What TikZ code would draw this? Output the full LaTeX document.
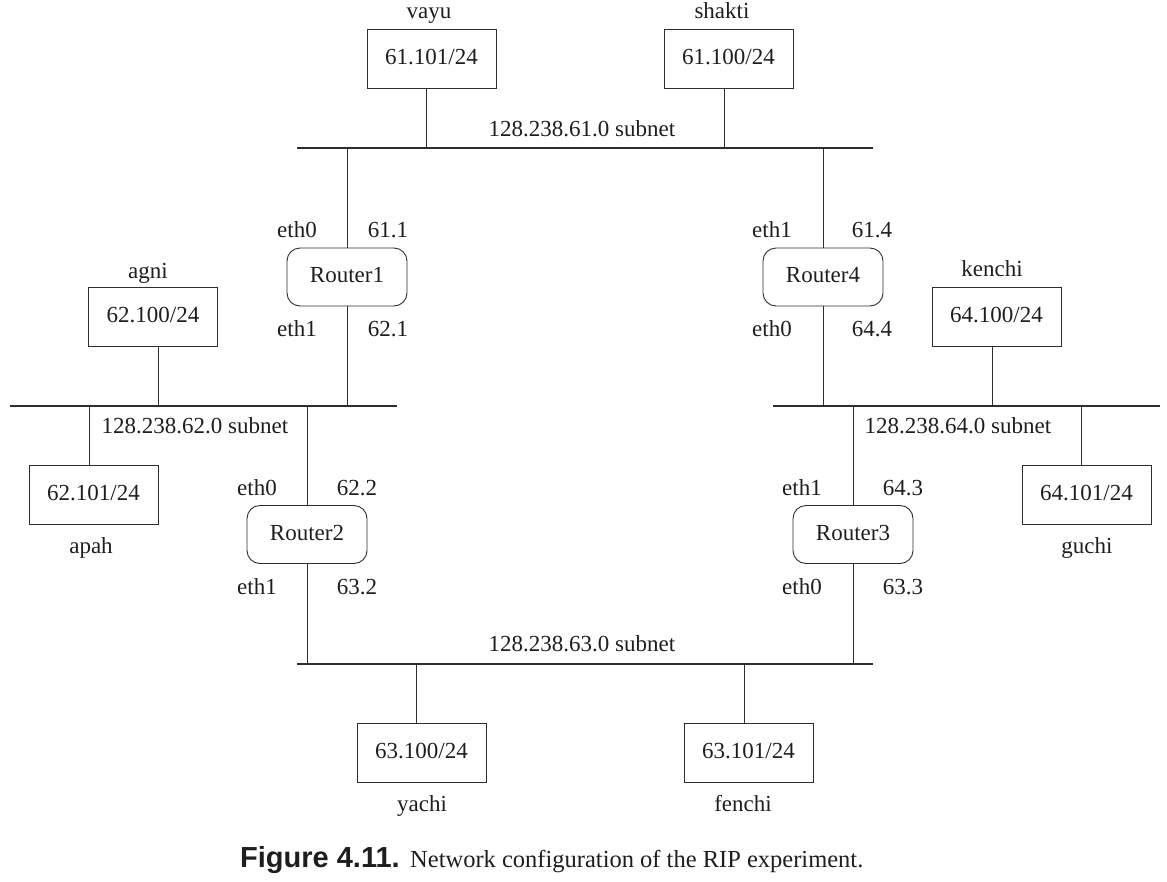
\documentclass[tikz,border=0pt]{standalone}
\usepackage{fontspec}
\setmainfont{Liberation Serif}
\newfontfamily\capsans{Liberation Sans}
\definecolor{lc}{RGB}{45,45,45}
\definecolor{tc}{RGB}{30,30,30}
\begin{document}
\begin{tikzpicture}[x=1pt,y=-1pt,
  every node/.style={text=tc},
  txt/.style={font=\fontsize{23}{26}\selectfont, inner sep=0pt, text height=16pt, text depth=5pt},
  host/.style={txt, draw=lc, line width=0.9pt, minimum width=129pt, minimum height=59pt},
  router/.style={txt, draw=lc, line width=0.9pt, rounded corners=13pt, minimum width=120pt, minimum height=58pt},
  bus/.style={draw=lc, line width=2.6pt},
  link/.style={draw=lc, line width=0.9pt}]
\useasboundingbox (0,0) rectangle (1167,881);

% hosts
\node[host] (vayu) at (431.5,58.5) {61.101/24};
\node[host] (shakti) at (728.5,58.5) {61.100/24};
\node[host] (agni) at (153,317) {62.100/24};
\node[host] (kenchi) at (996.5,317) {64.100/24};
\node[host] (apah) at (93.5,495) {62.101/24};
\node[host] (guchi) at (1086.5,495) {64.101/24};
\node[host] (yachi) at (421.5,753) {63.100/24};
\node[host] (fenchi) at (748.5,753) {63.101/24};

% host names
\node[txt] (nvayu) at (429,13) {vayu};
\node[txt] (nshakti) at (722,13) {shakti};
\node[txt] (nagni) at (148,273) {agni};
\node[txt] (nkenchi) at (992,271) {kenchi};
\node[txt] (napah) at (91,548) {apah};
\node[txt] (nguchi) at (1087,548) {guchi};
\node[txt] (nyachi) at (422,806) {yachi};
\node[txt] (nfenchi) at (743,806) {fenchi};

% routers
\node[router] (r1) at (347,277) {Router1};
\node[router] (r4) at (823,277) {Router4};
\node[router] (r2) at (307,534.5) {Router2};
\node[router] (r3) at (853,534.5) {Router3};

% buses
\coordinate (t1) at (297,148); \coordinate (t2) at (873,148);
\coordinate (l1) at (10,406); \coordinate (l2) at (397,406);
\coordinate (g1) at (773,406); \coordinate (g2) at (1160,406);
\coordinate (b1) at (297,664); \coordinate (b2) at (873,664);
\draw[bus] (t1) -- (t2);
\draw[bus] (l1) -- (l2);
\draw[bus] (g1) -- (g2);
\draw[bus] (b1) -- (b2);

% attachment points
\coordinate (tv) at (426,148); \coordinate (ts) at (724,148);
\coordinate (tr1) at (347,148); \coordinate (tr4) at (823,148);
\coordinate (la) at (158,406); \coordinate (lp) at (89,406);
\coordinate (lr1) at (347,406); \coordinate (lr2) at (307,406);
\coordinate (gk) at (992,406); \coordinate (gg) at (1081,406);
\coordinate (gr4) at (823,406); \coordinate (gr3) at (853,406);
\coordinate (by) at (416,664); \coordinate (bf) at (744,664);
\coordinate (br2) at (307,664); \coordinate (br3) at (853,664);

\draw[link] (vayu.south -| tv) -- (tv);
\draw[link] (shakti.south -| ts) -- (ts);
\draw[link] (agni.south -| la) -- (la);
\draw[link] (apah.north -| lp) -- (lp);
\draw[link] (kenchi.south -| gk) -- (gk);
\draw[link] (guchi.north -| gg) -- (gg);
\draw[link] (yachi.north -| by) -- (by);
\draw[link] (fenchi.north -| bf) -- (bf);
\draw[link] (tr1) -- (r1.north);
\draw[link] (r1.south) -- (lr1);
\draw[link] (tr4) -- (r4.north);
\draw[link] (r4.south) -- (gr4);
\draw[link] (lr2) -- (r2.north);
\draw[link] (r2.south) -- (br2);
\draw[link] (gr3) -- (r3.north);
\draw[link] (r3.south) -- (br3);

% subnet labels
\node[txt] (s61) at (582,131) {128.238.61.0 subnet};
\node[txt] (s62) at (195,428) {128.238.62.0 subnet};
\node[txt] (s64) at (958,428) {128.238.64.0 subnet};
\node[txt] (s63) at (582,646) {128.238.63.0 subnet};

% interface labels
\node[txt] (r1a) at (297,232) {eth0};
\node[txt] (r1b) at (388,232) {61.1};
\node[txt] (r1c) at (297,331) {eth1};
\node[txt] (r1d) at (388,331) {62.1};
\node[txt] (r4a) at (772,232) {eth1};
\node[txt] (r4b) at (872,232) {61.4};
\node[txt] (r4c) at (772,331) {eth0};
\node[txt] (r4d) at (872,331) {64.4};
\node[txt] (r2a) at (257,490) {eth0};
\node[txt] (r2b) at (357,490) {62.2};
\node[txt] (r2c) at (257,589) {eth1};
\node[txt] (r2d) at (357,589) {63.2};
\node[txt] (r3a) at (802,490) {eth1};
\node[txt] (r3b) at (903,490) {64.3};
\node[txt] (r3c) at (802,589) {eth0};
\node[txt] (r3d) at (903,589) {63.3};

% caption
\node[anchor=base west, inner sep=0pt, font=\fontsize{29}{33}\capsans\bfseries] (capfig) at (240,867) {Figure 4.11.};
\node[anchor=base west, inner sep=0pt, font=\fontsize{24.5}{28}\selectfont] (captxt) at (410,867) {Network configuration of the RIP experiment.};
\end{tikzpicture}
\end{document}
